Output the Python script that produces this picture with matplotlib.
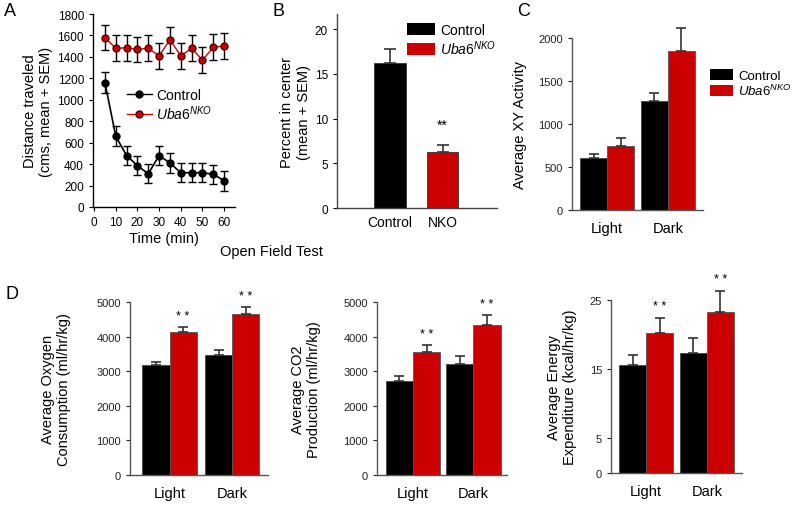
import matplotlib
matplotlib.use('Agg')
import matplotlib.pyplot as plt
import numpy as np
from matplotlib.patches import Patch
from matplotlib.lines import Line2D

plt.rcParams['font.family'] = ['Liberation Sans', 'DejaVu Sans']
plt.rcParams['mathtext.fontset'] = 'custom'
plt.rcParams['mathtext.it'] = 'Liberation Sans:italic'
plt.rcParams['mathtext.rm'] = 'Liberation Sans'

RED = '#cc0000'
ERRC = '#333333'
NKO = r'$\mathit{Uba6}^{\mathit{NKO}}$'

# ---- panel A: open field distance over time
time_min = [5, 10, 15, 20, 25, 30, 35, 40, 45, 50, 55, 60]
ctrl_dist = [1160, 660, 480, 385, 310, 480, 410, 320, 320, 320, 305, 245]
ctrl_dist_err = [100, 95, 90, 90, 90, 90, 90, 90, 90, 90, 90, 95]
nko_dist = [1580, 1480, 1485, 1470, 1480, 1410, 1560, 1410, 1480, 1370, 1490, 1500]
nko_dist_err = [120, 120, 120, 120, 120, 120, 120, 120, 120, 120, 120, 120]

# ---- panel B: percent in center
center_groups = ['Control', 'NKO']
center_vals = [16.2, 6.3]
center_err = [1.6, 0.8]

# ---- panel C: XY activity
phases = ['Light', 'Dark']
xy_ctrl = [610, 1265]
xy_ctrl_err = [40, 95]
xy_nko = [740, 1850]
xy_nko_err = [95, 270]

# ---- panel D: metabolism
o2_ctrl = [3190, 3480]
o2_ctrl_err = [90, 135]
o2_nko = [4140, 4640]
o2_nko_err = [125, 210]

co2_ctrl = [2710, 3200]
co2_ctrl_err = [165, 240]
co2_nko = [3550, 4340]
co2_nko_err = [210, 270]

ee_ctrl = [15.6, 17.4]
ee_ctrl_err = [1.5, 2.1]
ee_nko = [20.2, 23.2]
ee_nko_err = [2.2, 3.1]

W, H = 800, 506
fig = plt.figure(figsize=(W / 100, H / 100), dpi=100)

def px_axes(l, t, r, b):
  return fig.add_axes([l / W, 1 - b / H, (r - l) / W, (b - t) / H])

def style(ax, color='black'):
  ax.spines['top'].set_visible(False)
  ax.spines['right'].set_visible(False)
  for s in ['left', 'bottom']:
    ax.spines[s].set_color(color)
    ax.spines[s].set_linewidth(1.0)

# ---------------- A
axA = px_axes(93, 15, 235, 208)
axA.errorbar(time_min, ctrl_dist, yerr=ctrl_dist_err, color='black', marker='o', ms=5,
             lw=1.2, capsize=3, elinewidth=1.0, clip_on=False, zorder=3)
axA.errorbar(time_min, nko_dist, yerr=nko_dist_err, color=RED, marker='o', ms=5, mfc=RED,
             mec='#550000', lw=1.0, ecolor='black', capsize=3, elinewidth=1.0, clip_on=False, zorder=3)
axA.set_xlim(-0.5, 65)
axA.set_ylim(0, 1800)
axA.set_xticks(range(0, 61, 10))
axA.set_yticks(range(0, 1801, 200))
style(axA)
axA.tick_params(labelsize=8.5, length=3)
axA.set_xlabel('Time (min)', fontsize=10.5, labelpad=2)
axA.set_ylabel('Distance traveled\n(cms, mean + SEM)', fontsize=10.5, labelpad=3)
hA = [Line2D([], [], color='black', marker='o', ms=5, lw=1),
      Line2D([], [], color=RED, marker='o', ms=5, mec='#550000', lw=1)]
axA.legend(hA, ['Control', NKO], loc='upper left', bbox_to_anchor=(0.15, 0.68), frameon=False,
           handlelength=1.8, handletextpad=0.3, labelspacing=0.05,
           prop={'family': 'Liberation Sans', 'size': 10})

# ---------------- B
axB = px_axes(337, 15, 497, 209)
xb = np.array([1.68, 3.35])
axB.bar(xb, center_vals, width=1.0, color=['black', RED], edgecolor='#333333', lw=0.6)
axB.errorbar(xb, center_vals, yerr=[[0, 0], center_err], fmt='none', ecolor=ERRC,
             capsize=4, elinewidth=1.2, capthick=1.2)
axB.text(xb[1], center_vals[1] + center_err[1] + 1.4, '**', ha='center', va='bottom', fontsize=10)
axB.set_xlim(0, 5.08)
axB.set_ylim(0, 21.7)
axB.set_yticks([0, 5, 10, 15, 20])
axB.set_xticks(xb)
axB.set_xticklabels(center_groups)
style(axB, '#444444')
axB.tick_params(axis='y', labelsize=8.5, length=3)
axB.tick_params(axis='x', labelsize=10, length=0, pad=5)
axB.set_ylabel('Percent in center\n(mean + SEM)', fontsize=10.5, labelpad=3)
hB = [Patch(facecolor='black'), Patch(facecolor=RED)]
axB.legend(hB, ['Control', NKO], loc='upper left', bbox_to_anchor=(0.36, 1.02), frameon=False,
           handlelength=2.0, handleheight=0.9, handletextpad=0.4, labelspacing=0.1,
           prop={'family': 'Liberation Sans', 'size': 10})

fig.text(271 / W, 1 - 252 / H, 'Open Field Test', ha='center', va='center', fontsize=10.5)

# ---------------- grouped bar helper
def grouped(ax, centers, ctrl, ctrl_err, nko, nko_err, stars=True, star_pad=0.0):
  c = np.array(centers)
  ax.bar(c - 0.5, ctrl, width=1.0, color='black', edgecolor='#444444', lw=0.6)
  ax.bar(c + 0.5, nko, width=1.0, color=RED, edgecolor='#555555', lw=0.6)
  ax.errorbar(c - 0.5, ctrl, yerr=[[0] * len(ctrl), ctrl_err], fmt='none', ecolor=ERRC,
              capsize=3.5, elinewidth=1.2, capthick=1.2, clip_on=False)
  ax.errorbar(c + 0.5, nko, yerr=[[0] * len(nko), nko_err], fmt='none', ecolor=ERRC,
              capsize=3.5, elinewidth=1.2, capthick=1.2, clip_on=False)
  if stars:
    for xi, v, e in zip(c + 0.5, nko, nko_err):
      ax.text(xi, v + e + star_pad, '* *', ha='center', va='bottom', fontsize=9, clip_on=False)
  ax.set_xticks(c)
  ax.set_xticklabels(phases)
  style(ax, '#555555')
  ax.tick_params(axis='y', labelsize=8, length=3, colors='#222222')
  ax.tick_params(axis='x', labelsize=10.5, length=0, pad=8)

# ---------------- C
axC = px_axes(572, 39, 703, 211)
grouped(axC, [1.3, 3.55], xy_ctrl, xy_ctrl_err, xy_nko, xy_nko_err, stars=False)
axC.set_xlim(0, 4.85)
axC.set_ylim(0, 2000)
axC.set_yticks([0, 500, 1000, 1500, 2000])
axC.set_ylabel('Average XY Activity', fontsize=10.5, labelpad=8)
hC = [Patch(facecolor='black'), Patch(facecolor=RED)]
axC.legend(hC, ['Control', NKO], loc='upper left', bbox_to_anchor=(0.96, 0.89), frameon=False,
           handlelength=1.8, handleheight=0.9, handletextpad=0.35, labelspacing=0.1,
           prop={'family': 'Liberation Sans', 'size': 9.5})

# ---------------- D
axD1 = px_axes(130, 303, 268, 476)
grouped(axD1, [1.46, 3.78], o2_ctrl, o2_ctrl_err, o2_nko, o2_nko_err, star_pad=150)
axD1.set_xlim(0, 5.1)
axD1.set_ylim(0, 5000)
axD1.set_yticks(range(0, 5001, 1000))
axD1.set_ylabel('Average Oxygen\nConsumption (ml/hr/kg)', fontsize=10.5, labelpad=18)

axD2 = px_axes(377, 303, 507, 476)
grouped(axD2, [1.33, 3.56], co2_ctrl, co2_ctrl_err, co2_nko, co2_nko_err, star_pad=150)
axD2.set_xlim(0, 4.8)
axD2.set_ylim(0, 5000)
axD2.set_yticks(range(0, 5001, 1000))
axD2.set_ylabel('Average CO2\nProduction (ml/hr/kg)', fontsize=10.5, labelpad=16)

axD3 = px_axes(611, 301, 742, 474)
grouped(axD3, [1.3, 3.55], ee_ctrl, ee_ctrl_err, ee_nko, ee_nko_err, star_pad=0.8)
axD3.set_xlim(0, 4.85)
axD3.set_ylim(0, 25)
axD3.set_yticks([0, 5, 15, 25])
axD3.set_ylabel('Average Energy\nExpenditure (kcal/hr/kg)', fontsize=10.5, labelpad=9)

# panel letters
for lab, x, y in [('A', 10, 12), ('B', 278, 12), ('C', 524, 12), ('D', 12, 295)]:
  fig.text(x / W, 1 - y / H, lab, ha='center', va='center', fontsize=13)

fig.savefig('out.png', dpi=100)
